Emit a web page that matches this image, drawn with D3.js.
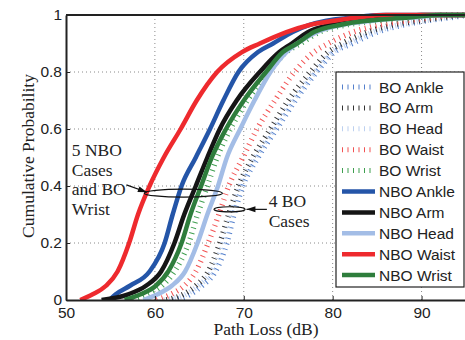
<!DOCTYPE html>
<html>
<head>
<meta charset="utf-8">
<script src="https://cdn.jsdelivr.net/npm/d3@7/dist/d3.min.js"></script>
<style>
  body { margin: 0; background: #fff; }
  svg { display: block; }
</style>
</head>
<body>
<div id="chart"></div>
<script>
// Cumulative probability levels, shared by every curve
const probLevels = [0, 0.02, 0.05, 0.1, 0.2, 0.3, 0.4, 0.5, 0.6, 0.7, 0.8, 0.87, 0.9, 0.94, 0.965, 0.98, 0.99, 1];

// Path loss (dB) at each probability level
const boAnkle  = [62.0, 64.0, 65.3, 66.8, 68.1, 68.9, 69.9, 71.6, 73.7, 75.8, 78.2, 80.2, 82.2, 85.0, 87.9, 90.6, 93.0, 96.0];
const boArm    = [61.3, 63.2, 64.6, 66.0, 67.3, 68.3, 69.4, 71.0, 73.0, 75.0, 77.5, 79.5, 81.1, 83.9, 86.7, 89.8, 92.0, 95.0];
const boHead   = [61.0, 63.5, 64.9, 66.4, 67.7, 68.6, 69.6, 71.3, 73.4, 75.5, 78.0, 80.0, 81.8, 84.6, 87.5, 90.3, 92.5, 95.5];
const boWaist  = [60.2, 61.8, 63.3, 64.6, 66.0, 67.2, 68.3, 69.9, 71.5, 73.5, 75.7, 77.9, 79.5, 82.3, 85.3, 88.3, 90.9, 94.0];
const boWrist  = [57.5, 59.2, 60.8, 62.2, 63.8, 64.8, 65.9, 67.0, 68.5, 70.4, 72.8, 74.8, 76.4, 78.5, 81.5, 85.0, 89.0, 93.0];
const nboAnkle = [54.9, 55.6, 57.2, 59.4, 61.1, 62.0, 63.0, 64.6, 66.2, 67.7, 69.4, 71.6, 73.3, 75.5, 77.4, 79.3, 82.0, 85.5];
const nboArm   = [54.0, 57.0, 59.0, 60.7, 62.2, 63.3, 64.6, 65.9, 67.3, 69.2, 71.8, 74.0, 75.4, 77.2, 79.7, 82.5, 86.0, 90.0];
const nboHead  = [58.7, 60.3, 61.9, 63.4, 64.8, 65.9, 67.1, 68.1, 69.6, 71.2, 73.0, 74.8, 76.0, 78.2, 81.0, 84.5, 88.5, 92.8];
const nboWaist = [51.6, 53.0, 54.5, 55.8, 57.1, 58.1, 59.4, 61.0, 62.9, 64.7, 67.0, 69.8, 71.8, 74.8, 77.4, 80.2, 82.5, 86.0];
const nboWrist = [56.6, 58.4, 60.1, 61.5, 63.0, 64.0, 65.2, 66.4, 68.0, 70.0, 72.5, 74.4, 76.0, 77.9, 80.8, 84.0, 88.0, 92.0];

const seriesNames = ['BO Ankle', 'BO Arm', 'BO Head', 'BO Waist', 'BO Wrist',
                     'NBO Ankle', 'NBO Arm', 'NBO Head', 'NBO Waist', 'NBO Wrist'];
const seriesValues = [boAnkle, boArm, boHead, boWaist, boWrist,
                      nboAnkle, nboArm, nboHead, nboWaist, nboWrist];

const xTicks = [50, 60, 70, 80, 90];
const yTicks = [0, 0.2, 0.4, 0.6, 0.8, 1];

// Set the dimensions and margins
const svgWidth = 465;
const svgHeight = 340;
const margin = { top: 15, right: -1, bottom: 40, left: 66 };
const graphWidth = svgWidth - margin.left - margin.right;
const graphHeight = svgHeight - margin.top - margin.bottom;

// colours: dotted (BO) first, then solid (NBO)
const colors = ['#5580cc', '#333333', '#bcd0ef', '#f25252', '#3f9f50',
                '#2455a8', '#151515', '#a3bde6', '#ee2a2e', '#2e7d3c'];

const svg = d3.select('#chart')
  .append('svg')
  .attr('width', svgWidth)
  .attr('height', svgHeight);

const g = svg.append('g')
  .attr('transform', 'translate(' + margin.left + ',' + margin.top + ')');

const x = d3.scaleLinear().domain([50, 95]).range([0, graphWidth]);
const y = d3.scaleLinear().domain([0, 1]).range([graphHeight, 0]);

// Grid lines
g.append('g').selectAll('line')
  .data(xTicks.slice(1))
  .join('line')
  .attr('x1', d => x(d)).attr('x2', d => x(d))
  .attr('y1', 0).attr('y2', graphHeight)
  .attr('stroke', '#8a8a8a').attr('stroke-width', 1).attr('stroke-dasharray', '1,3');
g.append('g').selectAll('line')
  .data(yTicks.slice(1, -1))
  .join('line')
  .attr('x1', 0).attr('x2', graphWidth)
  .attr('y1', d => y(d)).attr('y2', d => y(d))
  .attr('stroke', '#8a8a8a').attr('stroke-width', 1).attr('stroke-dasharray', '1,3');

// Clip for curves
svg.append('defs').append('clipPath').attr('id', 'plot-clip')
  .append('rect').attr('x', 0).attr('y', -3).attr('width', graphWidth).attr('height', graphHeight + 3);

const line = d3.line()
  .x(d => x(d[0]))
  .y(d => y(d[1]))
  .curve(d3.curveMonotoneX);

const curves = g.append('g').attr('clip-path', 'url(#plot-clip)');
seriesValues.forEach((vals, i) => {
  const pts = vals.map((v, k) => [v, probLevels[k]]);
  pts.push([100, 1]);
  const dotted = i < 5;
  curves.append('path')
    .datum(pts)
    .attr('d', line)
    .attr('fill', 'none')
    .attr('stroke', colors[i])
    .attr('stroke-width', dotted ? 5.5 : 4.5)
    .attr('stroke-dasharray', dotted ? '1,4.5' : null)
    .attr('stroke-linejoin', 'round');
});

// Axes
const xAxis = g.append('g')
  .attr('transform', 'translate(0,' + graphHeight + ')')
  .call(d3.axisBottom(x).tickValues(xTicks).tickSize(-4).tickSizeOuter(0).tickPadding(7));
const yAxis = g.append('g')
  .call(d3.axisLeft(y).tickValues(yTicks).tickSize(-4).tickSizeOuter(0).tickPadding(4)
    .tickFormat(d => String(d)));
[xAxis, yAxis].forEach(a => {
  a.select('.domain').attr('stroke', '#222').attr('stroke-width', 2);
  a.selectAll('.tick line').attr('stroke', '#222');
  a.selectAll('.tick text')
    .attr('font-family', 'Liberation Sans, Arial, sans-serif')
    .attr('font-size', 15.5)
    .attr('fill', '#222');
});
// top frame line
g.append('line')
  .attr('x1', 0).attr('x2', graphWidth).attr('y1', 0).attr('y2', 0)
  .attr('stroke', '#222').attr('stroke-width', 2);

// Axis titles
svg.append('text')
  .attr('x', 266).attr('y', 335)
  .attr('text-anchor', 'middle')
  .attr('font-family', 'Liberation Serif, Times New Roman, serif')
  .attr('font-size', 17.5).attr('fill', '#222')
  .text('Path Loss (dB)');
svg.append('text')
  .attr('transform', 'translate(34,156) rotate(-90)')
  .attr('text-anchor', 'middle')
  .attr('font-family', 'Liberation Serif, Times New Roman, serif')
  .attr('font-size', 17.5).attr('fill', '#222')
  .text('Cumulative Probability');

// Annotations
const serif = 'Liberation Serif, Times New Roman, serif';
['5 NBO', 'Cases', 'and BO', 'Wrist'].forEach((t, i) => {
  g.append('text')
    .attr('x', x(50.65)).attr('y', y(0.505) + i * 19.5)
    .attr('font-family', serif).attr('font-size', 17.5).attr('fill', '#222')
    .text(t);
});
['4 BO', 'Cases'].forEach((t, i) => {
  g.append('text')
    .attr('x', x(72.8)).attr('y', y(0.327) + i * 20)
    .attr('font-family', serif).attr('font-size', 17.5).attr('fill', '#222')
    .text(t);
});

g.append('ellipse')
  .attr('cx', x(63.2)).attr('cy', y(0.375))
  .attr('rx', x(50 + 4.4) - x(50)).attr('ry', 4)
  .attr('fill', 'none').attr('stroke', '#111').attr('stroke-width', 1.2);
g.append('ellipse')
  .attr('cx', x(68.4)).attr('cy', y(0.318))
  .attr('rx', x(50 + 1.75) - x(50)).attr('ry', 2.6)
  .attr('fill', 'none').attr('stroke', '#111').attr('stroke-width', 1.2);

function arrow(x1, y1, x2, y2) {
  const ax1 = x(x1), ay1 = y(y1), ax2 = x(x2), ay2 = y(y2);
  g.append('line')
    .attr('x1', ax1).attr('y1', ay1).attr('x2', ax2).attr('y2', ay2)
    .attr('stroke', '#111').attr('stroke-width', 1.2);
  const ang = Math.atan2(ay2 - ay1, ax2 - ax1);
  const len = 9, wid = 3;
  const bx = ax2 - len * Math.cos(ang), by = ay2 - len * Math.sin(ang);
  const px = -Math.sin(ang) * wid, py = Math.cos(ang) * wid;
  g.append('path')
    .attr('d', 'M' + ax2 + ',' + ay2 + 'L' + (bx + px) + ',' + (by + py) +
               'L' + (bx - px) + ',' + (by - py) + 'Z')
    .attr('fill', '#111');
}
arrow(56.8, 0.404, 59.1, 0.378);
arrow(72.6, 0.318, 70.3, 0.318);

// Legend
const legend = svg.append('g');
legend.append('rect')
  .attr('x', 336).attr('y', 72).attr('width', 128).attr('height', 215)
  .attr('fill', '#fff').attr('stroke', '#222').attr('stroke-width', 1.2);
seriesNames.forEach((name, i) => {
  const ly = 87 + i * 20.9;
  const dotted = i < 5;
  legend.append('line')
    .attr('x1', 342).attr('x2', 375).attr('y1', ly).attr('y2', ly)
    .attr('stroke', colors[i])
    .attr('stroke-width', dotted ? 5 : 4.5)
    .attr('stroke-dasharray', dotted ? '1,4.5' : null);
  legend.append('text')
    .attr('x', 379).attr('y', ly + 5.5)
    .attr('font-family', 'Liberation Sans, Arial, sans-serif')
    .attr('font-size', 15.5).attr('fill', '#222')
    .text(name);
});
</script>
</body>
</html>
